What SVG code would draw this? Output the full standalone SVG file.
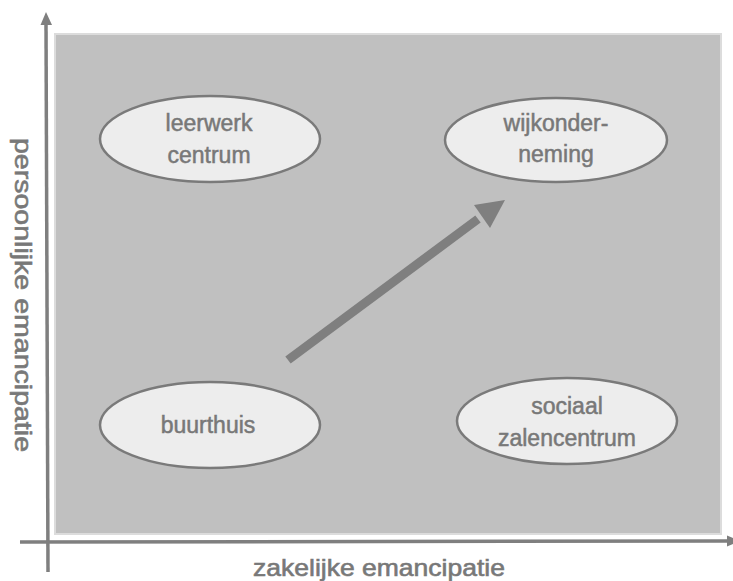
<svg xmlns="http://www.w3.org/2000/svg" width="733" height="581" viewBox="0 0 733 581">
<style>
.node ellipse{fill:#ededed;stroke:#7a7a7a;stroke-width:2.5}
.lbl{font-family:"Liberation Sans",Arial,sans-serif;font-size:23px;fill:#787878;stroke:#787878;stroke-width:0.5;text-anchor:middle}
.axis{font-family:"Liberation Sans",Arial,sans-serif;font-size:24px;fill:#787878;stroke:#787878;stroke-width:0.6;text-anchor:middle}
.ax{stroke:#7f7f7f;stroke-width:3.5;fill:none}
</style>
<rect width="733" height="581" fill="#ffffff"/>
<rect x="55" y="34" width="666" height="500" fill="#c0c0c0" stroke="#dcdcdc" stroke-width="2"/>
<g id="axes">
<line class="ax" x1="48" y1="572" x2="46" y2="22"/>
<path d="M46,12 L40.5,25 L52,25 Z" fill="#7f7f7f"/>
<line class="ax" x1="20" y1="542" x2="728" y2="541" stroke-width="3"/>
<path d="M740,541 L727,535.5 L727,546.5 Z" fill="#7f7f7f"/>
</g>
<text class="axis" x="379" y="576" textLength="252" lengthAdjust="spacingAndGlyphs">zakelijke emancipatie</text>
<text class="axis" transform="translate(15,295) rotate(90)" x="0" y="0" textLength="314" lengthAdjust="spacingAndGlyphs">persoonlijke emancipatie</text>
<g id="leerwerk" class="node">
<ellipse cx="210" cy="139" rx="110" ry="43"/>
<text class="lbl" x="209" y="131">leerwerk</text>
<text class="lbl" x="209" y="163">centrum</text>
</g>
<g id="wijkonderneming" class="node">
<ellipse cx="556" cy="140" rx="111" ry="42"/>
<text class="lbl" x="556" y="131">wijkonder-</text>
<text class="lbl" x="556" y="162">neming</text>
</g>
<g id="buurthuis" class="node">
<ellipse cx="210" cy="425" rx="110" ry="43"/>
<text class="lbl" x="208" y="433">buurthuis</text>
</g>
<g id="sociaal" class="node">
<ellipse cx="567" cy="421" rx="110" ry="43"/>
<text class="lbl" x="567" y="414">sociaal</text>
<text class="lbl" x="567" y="446">zalencentrum</text>
</g>
<g id="connectors">
<line x1="288" y1="360" x2="478" y2="219" stroke="#7f7f7f" stroke-width="9"/>
<path d="M505,200 L474,205 L490,228 Z" fill="#7f7f7f"/>
</g>
</svg>
